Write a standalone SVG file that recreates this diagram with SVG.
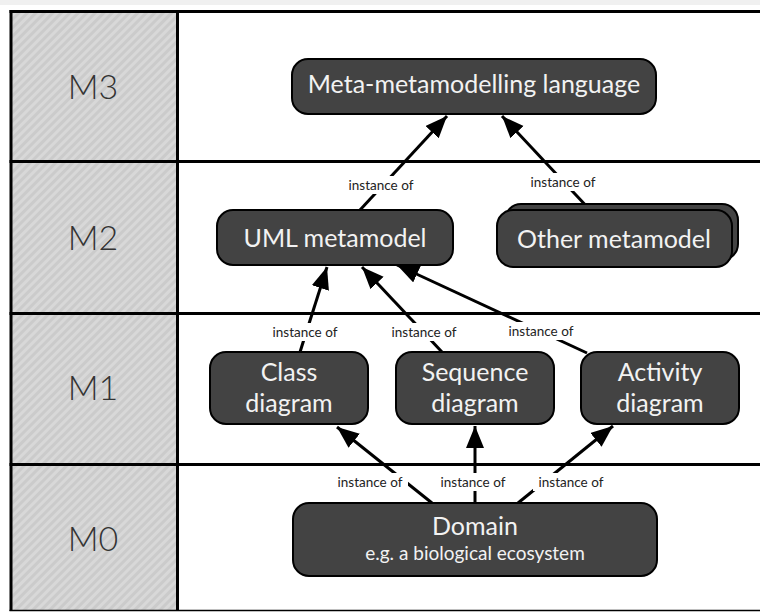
<svg xmlns="http://www.w3.org/2000/svg" width="760" height="613" viewBox="0 0 760 613">
  <style>
    .grid { stroke: #000; stroke-width: 3; fill: none; }
    .level { font-family: Lato, "Liberation Sans", sans-serif; font-weight: 300; font-size: 34px; fill: #333; text-anchor: middle; }
    .node rect { fill: #434343; stroke: #000; stroke-width: 2; }
    .node text { font-family: Lato, "Liberation Sans", sans-serif; font-size: 25px; fill: #f2f2f2; text-anchor: middle; }
    .node text.sub { font-size: 19px; }
    .conn line { stroke: #000; stroke-width: 3; marker-end: url(#head); }
    .conn rect { fill: #fff; }
    .conn text { font-family: Lato, "Liberation Sans", sans-serif; font-size: 13.5px; fill: #222; text-anchor: middle; }
  </style>
  <defs>
    <pattern id="hatch" width="6" height="6" patternUnits="userSpaceOnUse" patternTransform="rotate(45)">
      <rect width="6" height="6" fill="#cbcbcb"/>
      <rect width="3" height="6" fill="#d8d8d8"/>
    </pattern>
    <marker id="head" markerUnits="userSpaceOnUse" markerWidth="24" markerHeight="20" refX="22" refY="9" orient="auto">
      <path d="M0,0 L22,9 L0,18 z" fill="#000"/>
    </marker>
  </defs>

  <!-- page background -->
  <rect width="760" height="613" fill="#fff"/>
  <rect width="760" height="5" fill="#f0f0f0"/>

  <!-- level column and grid -->
  <g id="levels">
    <rect x="11" y="12" width="166" height="598" fill="url(#hatch)"/>
    <line class="grid" x1="9.5" y1="11.5" x2="760" y2="11.5"/>
    <line class="grid" x1="11" y1="10" x2="11" y2="611"/>
    <line class="grid" x1="177.5" y1="10" x2="177.5" y2="611"/>
    <line class="grid" x1="9.5" y1="161.5" x2="760" y2="161.5"/>
    <line class="grid" x1="9.5" y1="313.5" x2="760" y2="313.5"/>
    <line class="grid" x1="9.5" y1="464.5" x2="760" y2="464.5"/>
    <line x1="9.5" y1="610.5" x2="760" y2="610.5" stroke="#000" stroke-width="1.5"/>
    <text class="level" x="93" y="99">M3</text>
    <text class="level" x="93" y="250">M2</text>
    <text class="level" x="93" y="400">M1</text>
    <text class="level" x="93" y="551">M0</text>
  </g>

  <!-- connectors -->
  <g id="connectors">
    <g class="conn">
      <line x1="360" y1="210" x2="447" y2="116"/>
      <rect x="343" y="176" width="76" height="18"/>
      <text x="381" y="190">instance of</text>
    </g>
    <g class="conn">
      <line x1="590" y1="210" x2="502" y2="116"/>
      <rect x="525" y="173" width="76" height="18"/>
      <text x="563" y="187">instance of</text>
    </g>
    <g class="conn">
      <line x1="300" y1="352" x2="327" y2="267"/>
      <rect x="267" y="323" width="76" height="18"/>
      <text x="305" y="337">instance of</text>
    </g>
    <g class="conn">
      <line x1="442" y1="352" x2="362" y2="267"/>
      <rect x="386" y="323" width="76" height="18"/>
      <text x="424" y="337">instance of</text>
    </g>
    <g class="conn">
      <line x1="587" y1="353" x2="397" y2="265"/>
      <rect x="503" y="322" width="76" height="18"/>
      <text x="541" y="336">instance of</text>
    </g>
    <g class="conn">
      <line x1="432" y1="503" x2="337" y2="427"/>
      <rect x="332" y="473" width="76" height="18"/>
      <text x="370" y="487">instance of</text>
    </g>
    <g class="conn">
      <line x1="475" y1="503" x2="475" y2="426"/>
      <rect x="435" y="473" width="76" height="18"/>
      <text x="473" y="487">instance of</text>
    </g>
    <g class="conn">
      <line x1="518" y1="503" x2="613" y2="426"/>
      <rect x="533" y="473" width="76" height="18"/>
      <text x="571" y="487">instance of</text>
    </g>
  </g>

  <!-- nodes -->
  <g id="meta-language" class="node">
    <rect x="292" y="59" width="364" height="55" rx="16"/>
    <text x="474" y="93">Meta-metamodelling language</text>
  </g>
  <g id="uml-metamodel" class="node">
    <rect x="217" y="210" width="236" height="55" rx="16"/>
    <text x="335" y="247">UML metamodel</text>
  </g>
  <g id="other-metamodel" class="node">
    <rect x="505" y="204" width="233" height="56" rx="16"/>
    <rect x="497" y="210" width="235" height="57" rx="16"/>
    <text x="614" y="248">Other metamodel</text>
  </g>
  <g id="class-diagram" class="node">
    <rect x="210" y="352" width="158" height="72" rx="16"/>
    <text x="289" y="381">Class</text>
    <text x="289" y="412">diagram</text>
  </g>
  <g id="sequence-diagram" class="node">
    <rect x="396" y="352" width="158" height="72" rx="16"/>
    <text x="475" y="381">Sequence</text>
    <text x="475" y="412">diagram</text>
  </g>
  <g id="activity-diagram" class="node">
    <rect x="581" y="352" width="158" height="72" rx="16"/>
    <text x="660" y="381">Activity</text>
    <text x="660" y="412">diagram</text>
  </g>
  <g id="domain" class="node">
    <rect x="293" y="503" width="364" height="73" rx="16"/>
    <text x="475" y="535">Domain</text>
    <text class="sub" x="475" y="560">e.g. a biological ecosystem</text>
  </g>
</svg>
